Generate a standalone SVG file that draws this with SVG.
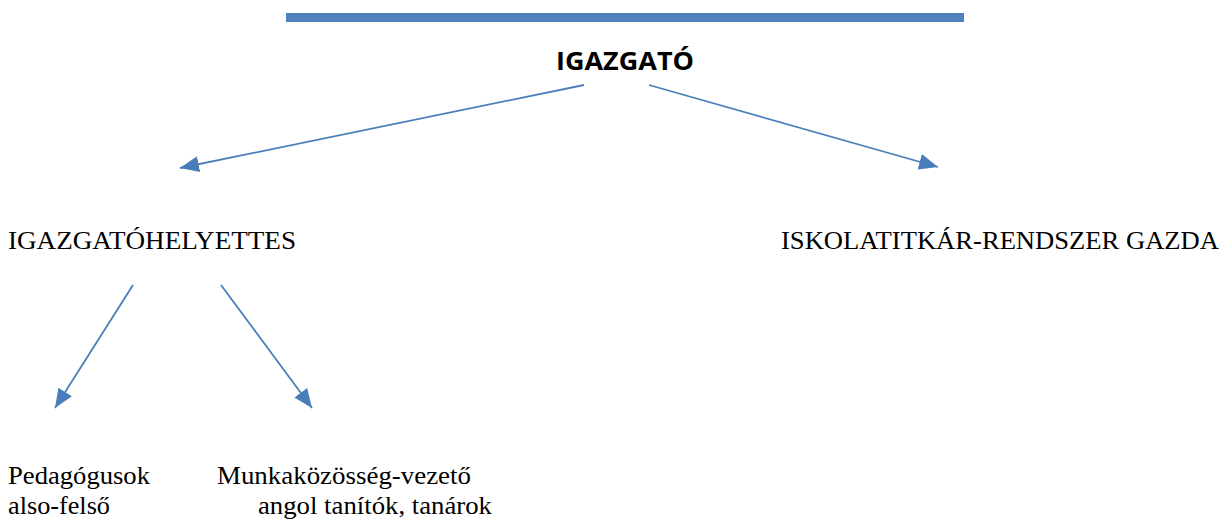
<svg xmlns="http://www.w3.org/2000/svg" width="1223" height="522" viewBox="0 0 1223 522">
<style>
.t{font-family:"Liberation Serif","DejaVu Serif","Times New Roman",serif;font-size:25px;fill:#000}
.b{font-family:"Open Sans","Liberation Sans",sans-serif;font-weight:bold;font-size:25px;fill:#000}
.c{stroke:#4a7ebb;stroke-width:1.8;fill:none}
</style>
<defs>
<marker id="ah" markerUnits="userSpaceOnUse" markerWidth="20" markerHeight="16" refX="19" refY="8" orient="auto" viewBox="0 0 20 16">
<path d="M0,0 L19,8 L0,16 Z" fill="#4a7ebb"/>
</marker>
</defs>
<rect x="286" y="13" width="678" height="9" fill="#4f81bd"/>
<g id="igazgato"><text class="b" x="556" y="70" textLength="138" lengthAdjust="spacingAndGlyphs">IGAZGATÓ</text></g>
<g id="helyettes"><text class="t" x="8" y="249" textLength="288" lengthAdjust="spacingAndGlyphs">IGAZGATÓHELYETTES</text></g>
<g id="titkar"><text class="t" x="781" y="249" textLength="438" lengthAdjust="spacingAndGlyphs">ISKOLATITKÁR-RENDSZER GAZDA</text></g>
<g id="pedagogusok"><text class="t" x="8" y="484" textLength="142" lengthAdjust="spacingAndGlyphs">Pedagógusok</text><text class="t" x="8" y="514" textLength="102" lengthAdjust="spacingAndGlyphs">also-felső</text></g>
<g id="munkakozosseg"><text class="t" x="217" y="484" textLength="254" lengthAdjust="spacingAndGlyphs">Munkaközösség-vezető</text><text class="t" x="258" y="514" textLength="234" lengthAdjust="spacingAndGlyphs">angol tanítók, tanárok</text></g>
<g id="connectors">
<line class="c" x1="584" y1="85" x2="180" y2="168" marker-end="url(#ah)"/>
<line class="c" x1="649" y1="85" x2="938" y2="167" marker-end="url(#ah)"/>
<line class="c" x1="133" y1="285" x2="55" y2="408" marker-end="url(#ah)"/>
<line class="c" x1="221" y1="285" x2="312" y2="408" marker-end="url(#ah)"/>
</g>
</svg>
